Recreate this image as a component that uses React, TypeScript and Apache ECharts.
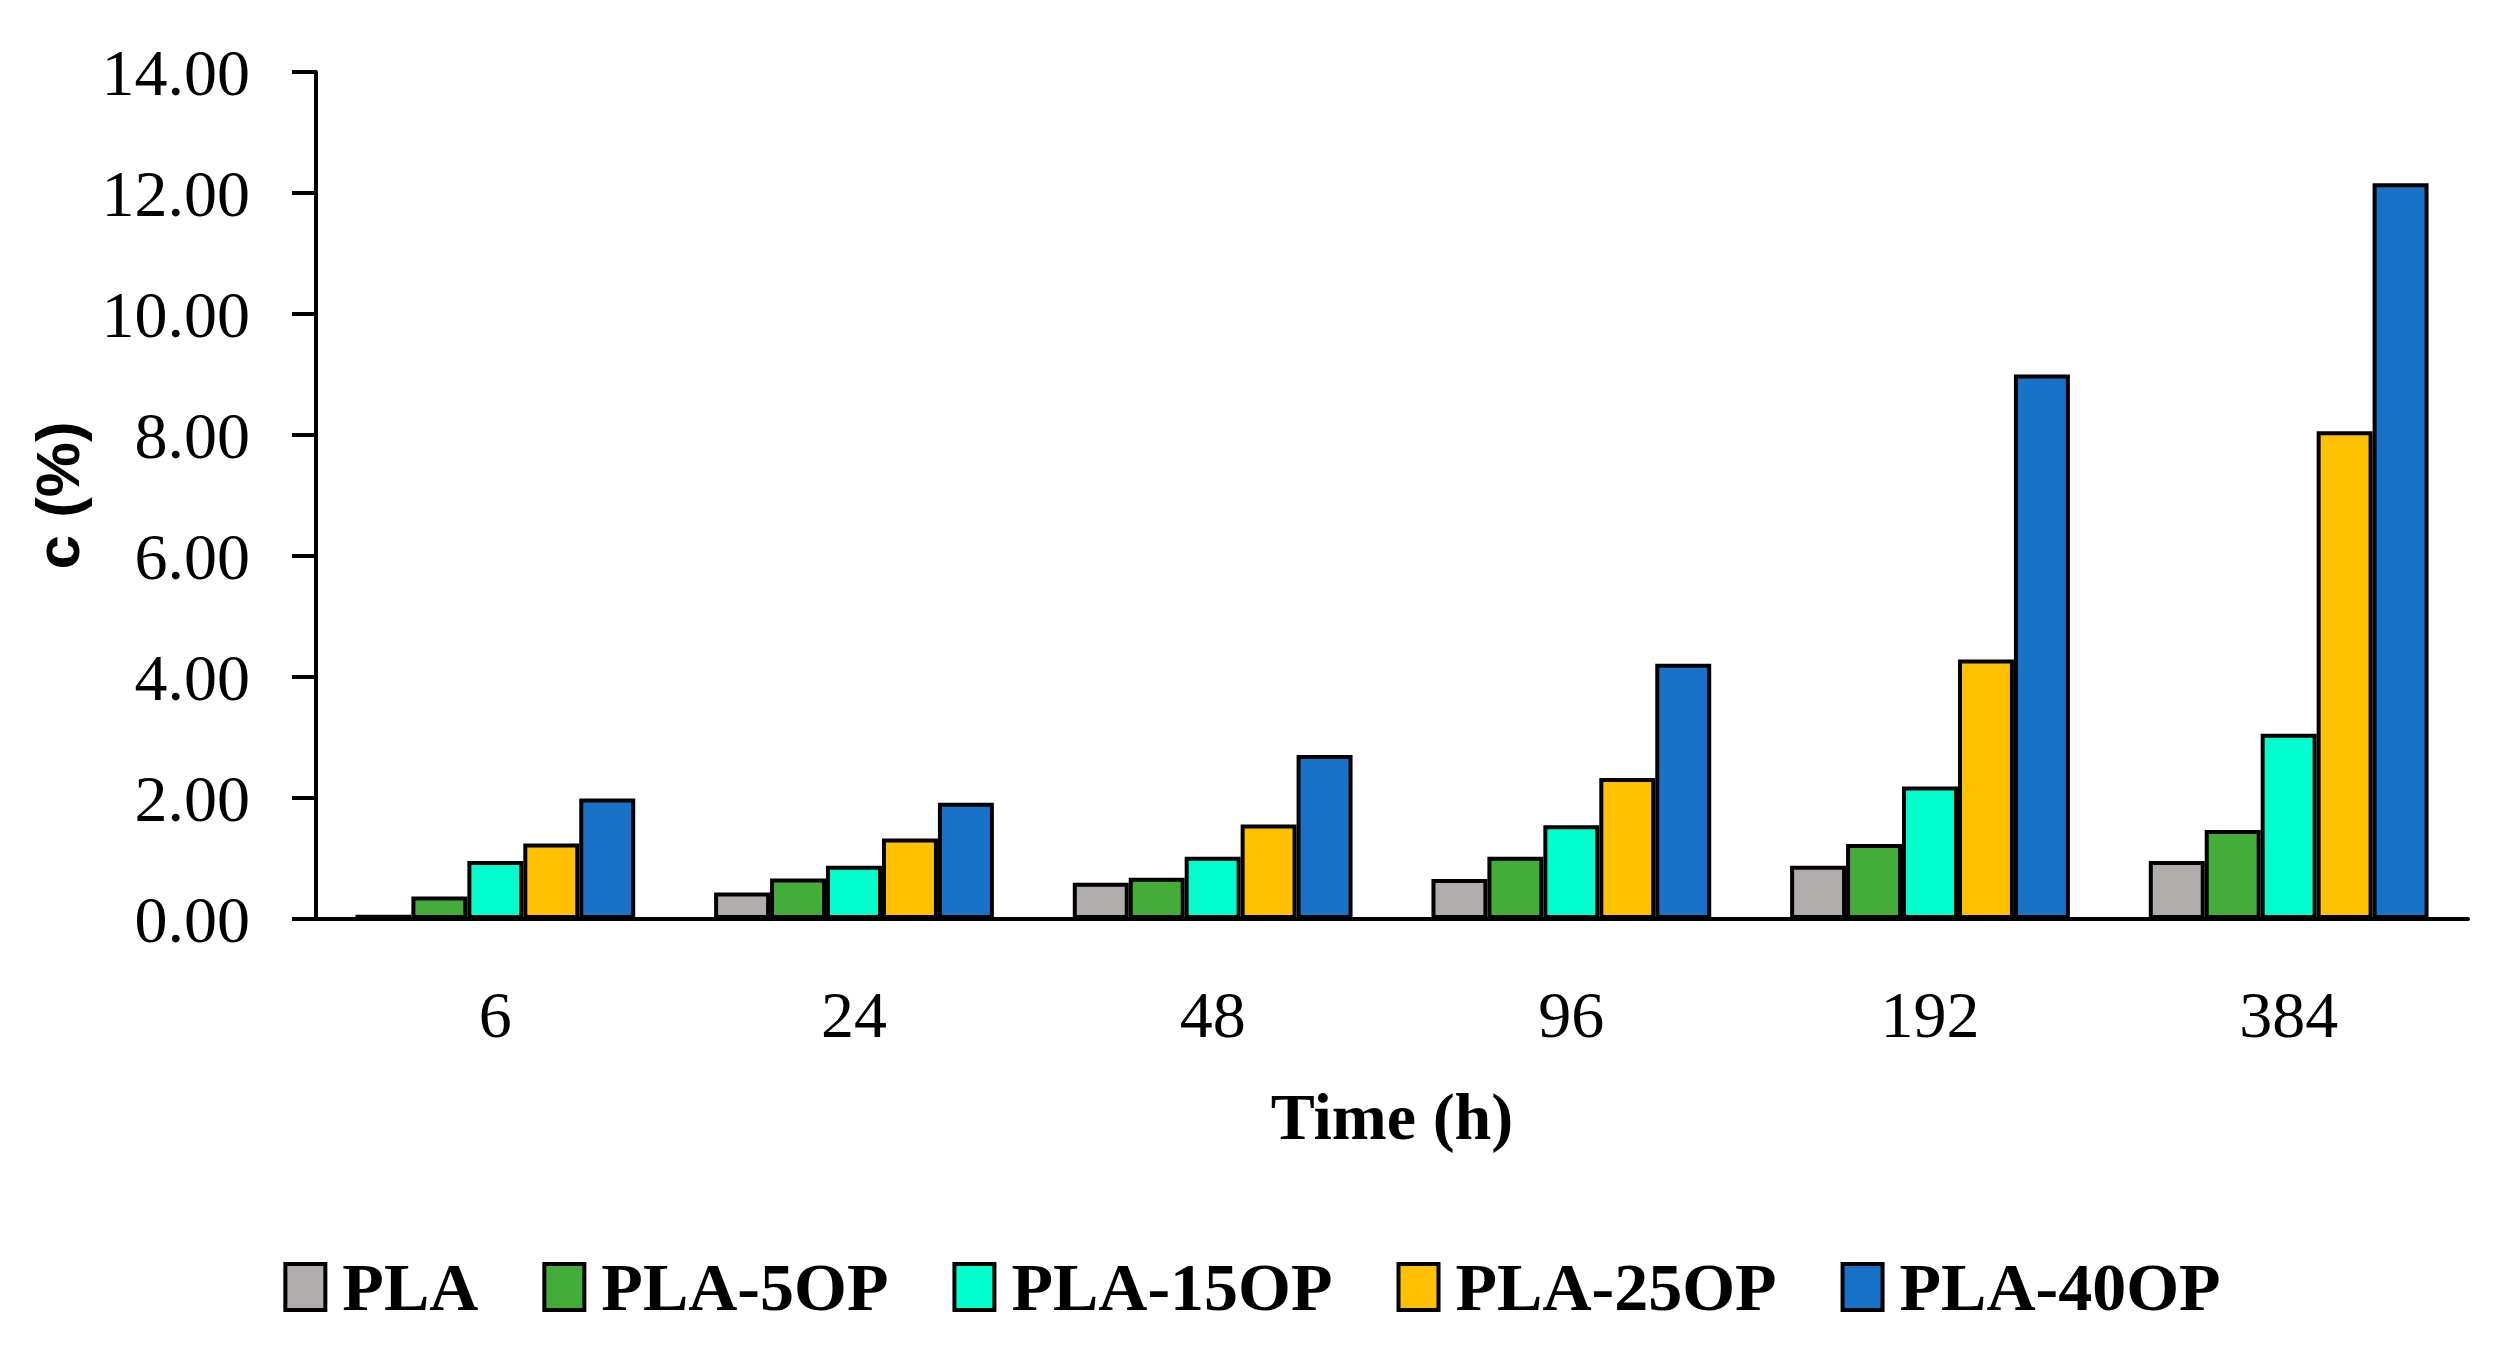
import React, { useEffect, useRef } from "react";
import * as echarts from "echarts";

const categories = ["6", "24", "48", "96", "192", "384"];
const seriesNames = ["PLA", "PLA-5OP", "PLA-15OP", "PLA-25OP", "PLA-40OP"];
const pla = [0.07, 0.44, 0.6, 0.66, 0.88, 0.96];
const pla5 = [0.37, 0.67, 0.68, 1.03, 1.24, 1.47];
const pla15 = [0.96, 0.88, 1.03, 1.55, 2.19, 3.06];
const pla25 = [1.25, 1.33, 1.56, 2.33, 4.29, 8.06];
const pla40 = [1.99, 1.92, 2.71, 4.22, 9.0, 12.16];
const colors = ["#B0ACAB", "#44AD3A", "#00FFCC", "#FFC000", "#1873C8"];

export default function App() {
  const ref = useRef<HTMLDivElement>(null);
  useEffect(() => {
    if (!ref.current) return;
    const chart = echarts.init(ref.current, null, { renderer: "svg" });
    const values = [pla, pla5, pla15, pla25, pla40];
    const serif = "Liberation Serif";
    chart.setOption({
      animation: false,
      backgroundColor: "#ffffff",
      grid: { left: 316, right: 36, top: 72, bottom: 433, containLabel: false },
      legend: {
        data: seriesNames,
        left: "center",
        top: 1248,
        icon: "rect",
        itemWidth: 40,
        itemHeight: 46,
        itemGap: 64,
        itemStyle: { borderColor: "#000", borderWidth: 4 },
        textStyle: {
          fontFamily: serif,
          fontWeight: "bold",
          fontSize: 68,
          color: "#000",
          padding: [0, 0, 0, 12],
        },
      },
      xAxis: {
        type: "category",
        data: categories,
        name: "Time (h)",
        nameLocation: "middle",
        nameGap: 164,
        nameTextStyle: { fontFamily: serif, fontWeight: "bold", fontSize: 66, color: "#000" },
        axisLine: { lineStyle: { color: "#000", width: 4 } },
        axisTick: { alignWithLabel: true, length: 20, lineStyle: { color: "#000", width: 3 } },
        axisLabel: { fontFamily: serif, fontSize: 66, color: "#000", margin: 62 },
      },
      yAxis: {
        type: "value",
        min: 0,
        max: 14,
        interval: 2,
        name: "c (%)",
        nameLocation: "middle",
        nameRotate: 90,
        nameGap: 228,
        nameTextStyle: { fontFamily: "Liberation Sans", fontWeight: "bold", fontSize: 62, color: "#000" },
        axisLine: { show: true, lineStyle: { color: "#000", width: 4 } },
        axisTick: { show: true, length: 24, lineStyle: { color: "#000", width: 4 } },
        splitLine: { show: false },
        axisLabel: {
          fontFamily: serif,
          fontSize: 66,
          color: "#000",
          margin: 66,
          formatter: (v: number) => v.toFixed(2),
        },
      },
      series: seriesNames.map((name, i) => ({
        name,
        type: "bar",
        data: values[i],
        barGap: "0%",
        barCategoryGap: "22%",
        itemStyle: { color: colors[i], borderColor: "#000", borderWidth: 4 },
      })),
    });
    return () => chart.dispose();
  }, []);
  return (
    <div
      ref={ref}
      style={{ position: "fixed", left: 0, top: 0, width: 2504, height: 1352 }}
    />
  );
}
